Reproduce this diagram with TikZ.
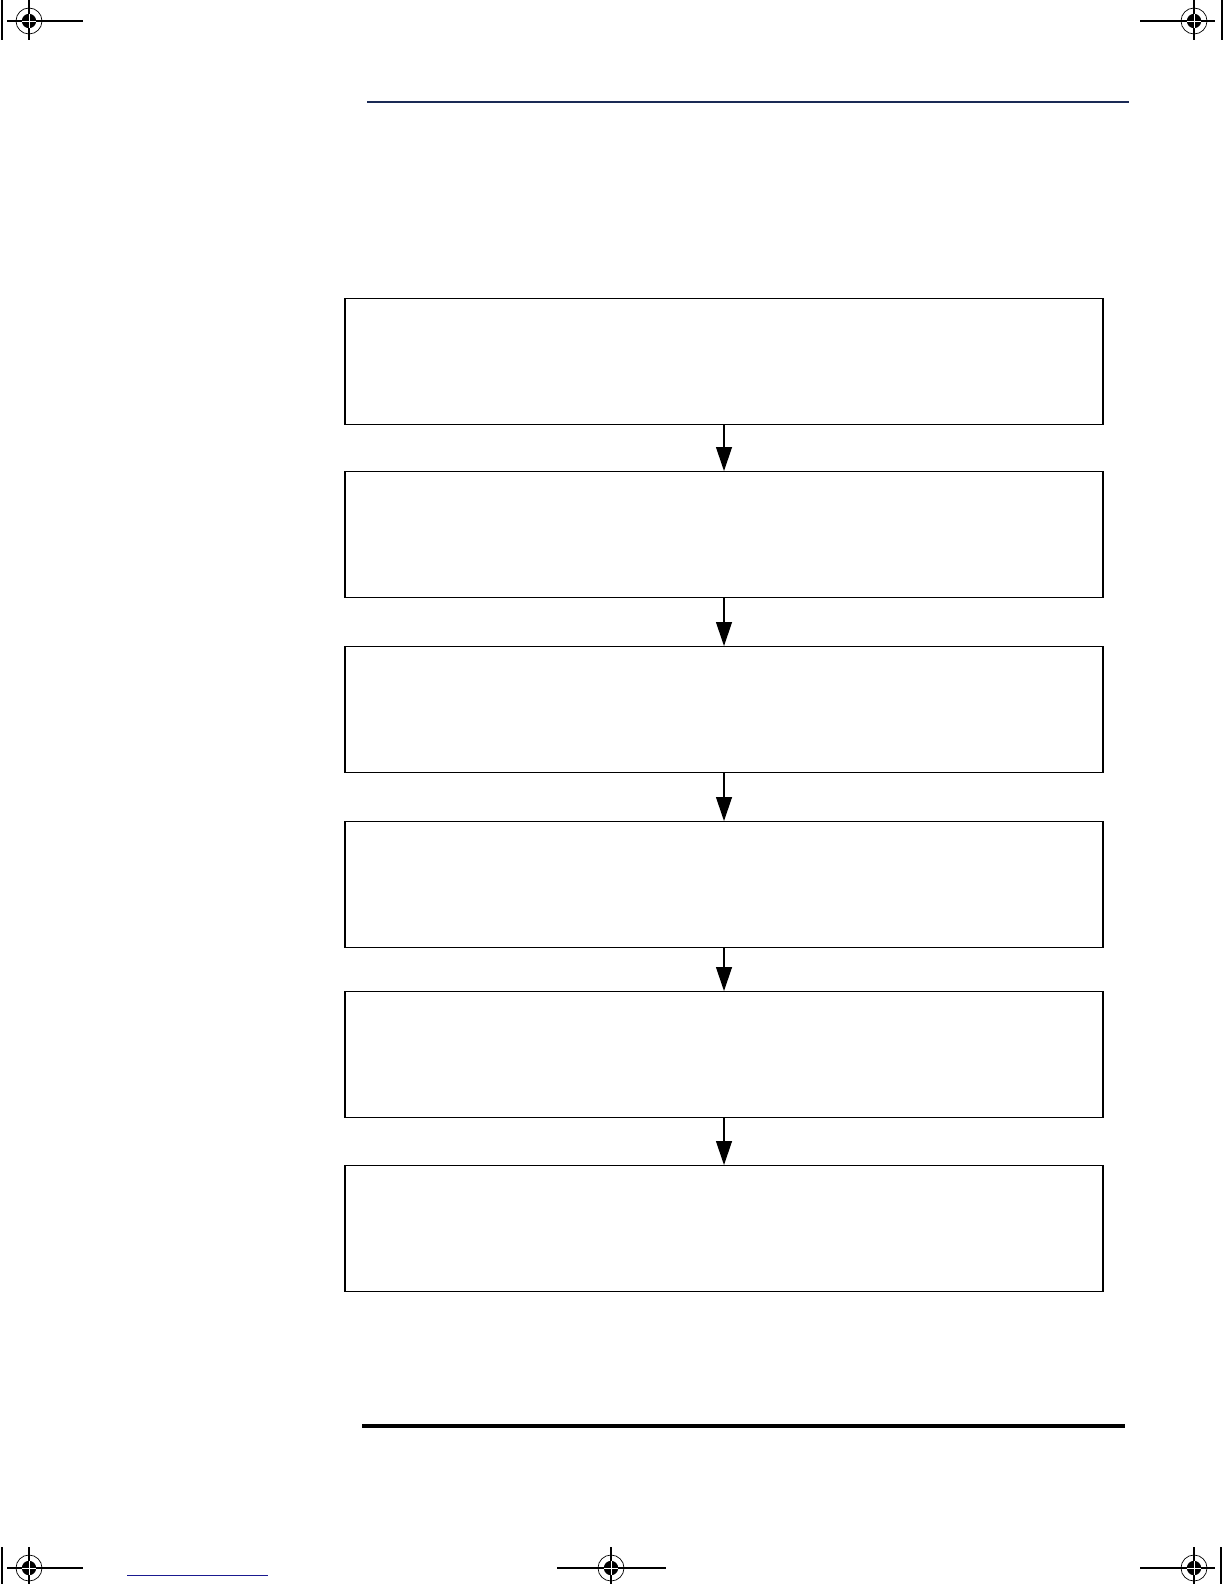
\documentclass[tikz,border=0pt]{standalone}
\usetikzlibrary{arrows.meta}
\definecolor{navyline}{HTML}{1A2A55}
\definecolor{blueline}{HTML}{1A1A90}
\begin{document}
\begin{tikzpicture}[x=0.5pt,y=-0.5pt,
  stepbox/.style={draw, line width=0.7pt, minimum width=379pt, minimum height=63pt, inner sep=0pt, anchor=north},
  flow/.style={line width=0.6pt, -{Triangle[length=12pt,width=8pt]}, shorten >=0pt},
  cropline/.style={line width=0.6pt},
  regmark/.pic={
    \draw[line width=0.35pt] (0,0) circle[radius=6.5pt];
    \fill (0,0) circle[radius=3.6pt];
    \draw[white, line width=0.35pt] (-3.6pt,0) -- (3.6pt,0) (0,-3.6pt) -- (0,3.6pt);
  }]
\useasboundingbox[fill=white] (0,0) rectangle (1224,1584);

% header and footer rules
\coordinate (hl) at (367,102); \coordinate (hr) at (1129,102);
\draw[navyline, line width=0.6pt] (hl) -- (hr);
\coordinate (fl) at (362,1426); \coordinate (fr) at (1125,1426);
\draw[line width=1.6pt] (fl) -- (fr);
\coordinate (bl) at (127,1575); \coordinate (br) at (268,1575);
\draw[blueline, line width=0.5pt] (bl) -- (br);

% boxes
\node[stepbox] (b1) at (724,298) {};
\node[stepbox] (b2) at (724,471) {};
\node[stepbox] (b3) at (724,646) {};
\node[stepbox] (b4) at (724,821) {};
\node[stepbox] (b5) at (724,991) {};
\node[stepbox] (b6) at (724,1165) {};

\draw[flow] (b1.south) -- (b2.north);
\draw[flow] (b2.south) -- (b3.north);
\draw[flow] (b3.south) -- (b4.north);
\draw[flow] (b4.south) -- (b5.north);
\draw[flow] (b5.south) -- (b6.north);

% registration / crop marks
% top-left
\draw[cropline] (7,21) -- (83,21) (29,0) -- (29,40) (2,0) -- (2,40);
\pic at (29,21) {regmark};
% top-right
\draw[cropline] (1140,21) -- (1215,21) (1194,0) -- (1194,40) (1222,0) -- (1222,40);
\pic at (1194,21) {regmark};
% bottom-left
\draw[cropline] (7,1568) -- (83,1568) (29,1547) -- (29,1584) (2,1547) -- (2,1584);
\pic at (29,1568) {regmark};
% bottom-center
\draw[cropline] (557,1568) -- (666,1568) (611,1547) -- (611,1584);
\pic at (611,1568) {regmark};
% bottom-right
\draw[cropline] (1140,1568) -- (1215,1568) (1194,1547) -- (1194,1584) (1221,1547) -- (1221,1584);
\pic at (1194,1568) {regmark};
\end{tikzpicture}
\end{document}
